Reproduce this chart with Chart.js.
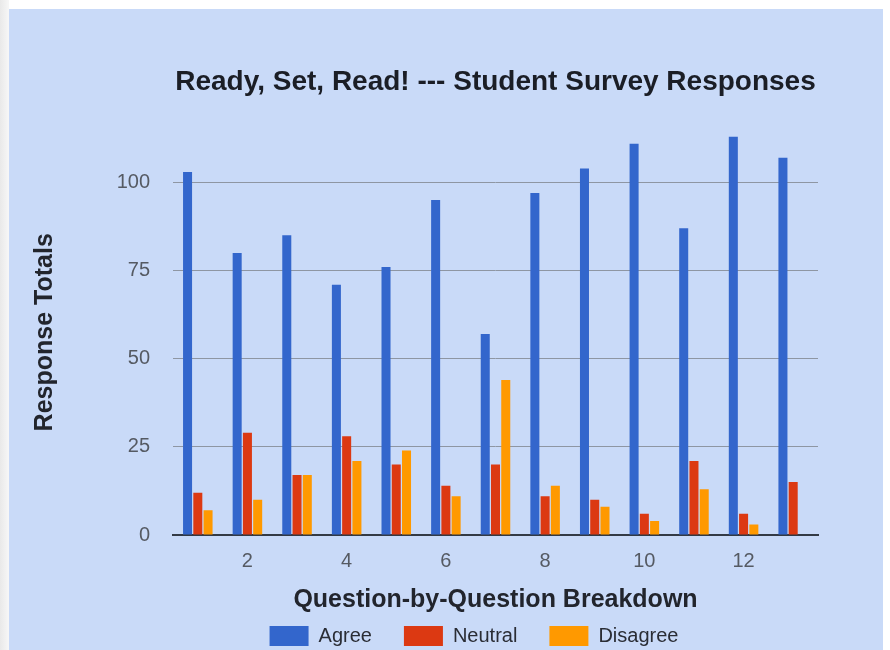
<!DOCTYPE html>
<html lang="en">
<head>
  <meta charset="UTF-8">
  <title>Ready, Set, Read! --- Student Survey Responses</title>
  <script src="https://cdn.jsdelivr.net/npm/chart.js"></script>
  <style>
    body {
      margin: 0;
      background: #ffffff;
    }
    #edge {
      position: absolute;
      left: 0;
      top: 0;
      width: 9px;
      height: 650px;
      background: linear-gradient(to right, #e9e9e9, #f7f7f7);
    }
    #panel {
      position: absolute;
      left: 9px;
      top: 9px;
      width: 874px;
      height: 641px;
      background: #c9daf8;
    }
    #chart-container {
      position: absolute;
      left: 0;
      top: 0;
      width: 890px;
      height: 650px;
    }
  </style>
</head>
<body>
  <div id="edge"></div>
  <div id="panel"></div>
  <div id="chart-container">
    <canvas id="myChart" width="890" height="650"></canvas>
  </div>

  <script>
    // Survey data, one value per question
    const questions = ['1', '2', '3', '4', '5', '6', '7', '8', '9', '10', '11', '12', '13'];
    const agree    = [103, 80, 85, 71, 76, 95, 57, 97, 104, 111, 87, 113, 107];
    const neutral  = [12, 29, 17, 28, 20, 14, 20, 11, 10, 6, 21, 6, 15];
    const disagree = [7, 10, 17, 21, 24, 11, 44, 14, 8, 4, 13, 3, 0];
    const yTicks = [0, 25, 50, 75, 100];

    const font = "'Liberation Sans', Arial, sans-serif";

    // the left padding keeps the legend centred where it is in the original,
    // so widen the y axis box afterwards so its labels are not clipped
    const widenYAxis = {
      id: 'widenYAxis',
      afterLayout(chart) {
        chart.scales.y.left = 95;
      }
    };

    const config = {
      type: 'bar',
      data: {
        labels: questions,
        datasets: [
          { label: 'Agree', data: agree, backgroundColor: '#3366cc' },
          { label: 'Neutral', data: neutral, backgroundColor: '#dc3912' },
          { label: 'Disagree', data: disagree, backgroundColor: '#ff9900' }
        ]
      },
      options: {
        responsive: false,
        animation: false,
        layout: {
          padding: { left: 130, right: 72, top: 0, bottom: -6 }
        },
        datasets: {
          bar: {
            categoryPercentage: 0.62,
            barPercentage: 0.88,
            borderWidth: 0
          }
        },
        plugins: {
          title: {
            display: true,
            text: 'Ready, Set, Read! --- Student Survey Responses',
            fullSize: false,
            color: '#1b1e26',
            font: { family: font, size: 28, weight: 'bold' },
            padding: { top: 65, bottom: 31 }
          },
          legend: {
            position: 'bottom',
            labels: {
              boxWidth: 39,
              boxHeight: 20,
              padding: 32,
              color: '#2a2d35',
              font: { family: font, size: 20 }
            }
          },
          tooltip: { enabled: false }
        },
        scales: {
          x: {
            grid: { display: false },
            border: { display: true, color: '#333a45', width: 2 },
            ticks: {
              autoSkip: false,
              maxRotation: 0,
              padding: 6,
              color: '#555a63',
              font: { family: font, size: 20 },
              // only every second question is labelled
              callback: function(value, index) {
                return (index + 1) % 2 === 0 ? questions[index] : '';
              }
            },
            title: {
              display: true,
              text: 'Question-by-Question Breakdown',
              color: '#22252d',
              font: { family: font, size: 25, weight: 'bold' },
              padding: { top: 12, bottom: -21 }
            },
            afterFit: function(scale) {
              scale.height = 59;
            }
          },
          y: {
            min: 0,
            max: 115,
            grid: {
              color: '#8e96a3',
              lineWidth: 1,
              drawTicks: false
            },
            border: { display: false },
            ticks: {
              stepSize: 25,
              padding: 23,
              color: '#555a63',
              font: { family: font, size: 20 }
            },
            afterBuildTicks: function(axis) {
              axis.ticks = yTicks.map(v => ({ value: v }));
            },
            title: {
              display: true,
              text: 'Response Totals',
              color: '#22252d',
              font: { family: font, size: 25, weight: 'bold' },
              padding: { top: -65, bottom: 0 }
            },
            afterFit: function(scale) {
              scale.width = 43;
            }
          }
        }
      },
      plugins: [widenYAxis]
    };

    const chart = new Chart(document.getElementById('myChart'), config);
  </script>
</body>
</html>
